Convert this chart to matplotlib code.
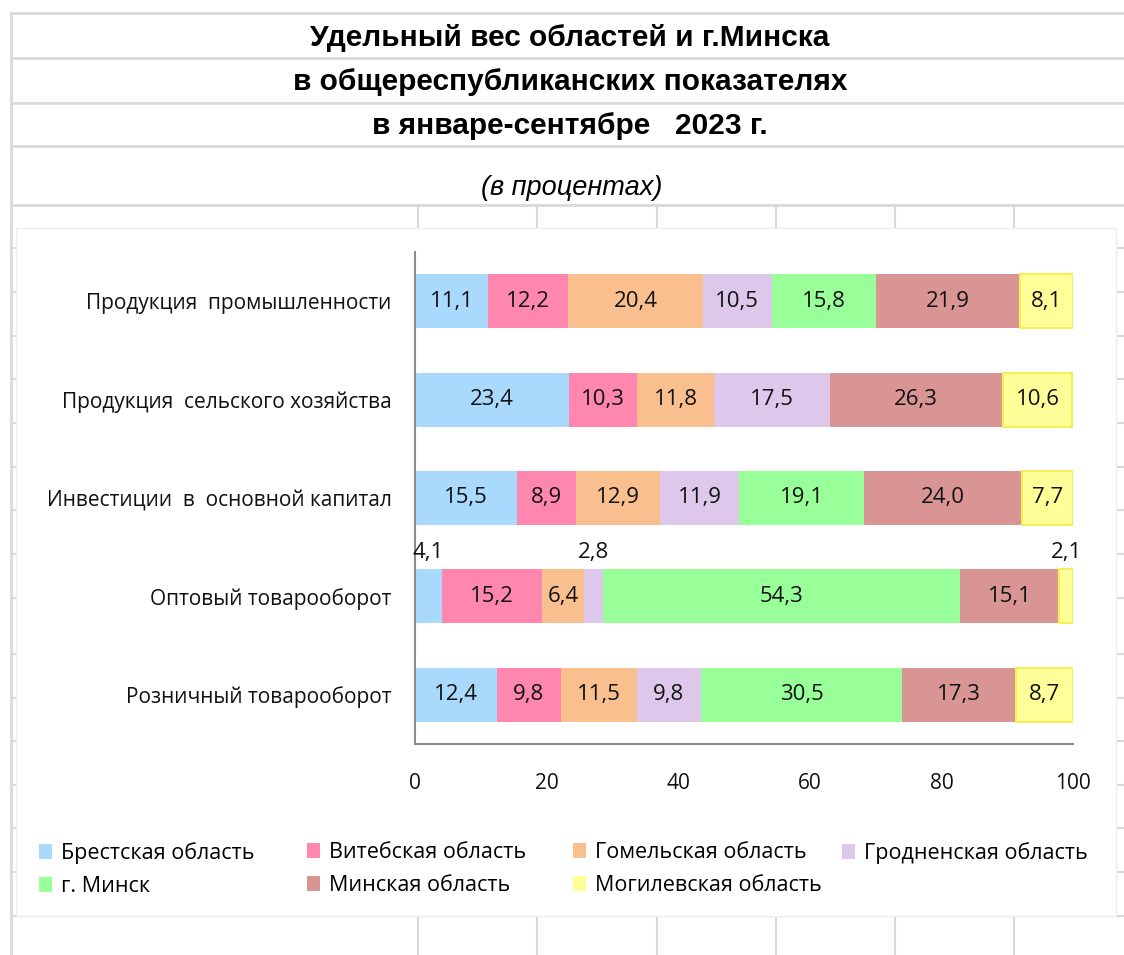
import matplotlib
matplotlib.use("Agg")
import matplotlib.pyplot as plt
from matplotlib.patches import Rectangle, Patch

# categories, top to bottom
categories = ["Продукция  промышленности",
              "Продукция  сельского хозяйства",
              "Инвестиции  в  основной капитал",
              "Оптовый товарооборот",
              "Розничный товарооборот"]

# share of each region, %
brest = [11.1, 23.4, 15.5, 4.1, 12.4]
vitebsk = [12.2, 10.3, 8.9, 15.2, 9.8]
gomel = [20.4, 11.8, 12.9, 6.4, 11.5]
grodno = [10.5, 17.5, 11.9, 2.8, 9.8]
minsk_city = [15.8, 0, 19.1, 54.3, 30.5]
minsk_region = [21.9, 26.3, 24.0, 15.1, 17.3]
mogilev = [8.1, 10.6, 7.7, 2.1, 8.7]

series = [brest, vitebsk, gomel, grodno, minsk_city, minsk_region, mogilev]
names = ["Брестская область", "Витебская область", "Гомельская область",
         "Гродненская область", "г. Минск", "Минская область", "Могилевская область"]
colors = ["#A9D9FD", "#FF86AE", "#F9BF8F", "#DDC8EB", "#99FF99", "#D99594", "#FFFF99"]

W, H = 1124, 955
fig = plt.figure(figsize=(W / 100, H / 100), dpi=100)

# spreadsheet background (cells behind the chart object)
bg = fig.add_axes([0, 0, 1, 1], zorder=0)
bg.set_xlim(0, W)
bg.set_ylim(H, 0)
bg.axis("off")
grid_c = "#D9D9D9"
bg.plot([11, 11], [13, H], color=grid_c, lw=2, zorder=1)
for yy in [13, 58, 103, 146, 205]:
    bg.plot([11, W], [yy, yy], color=grid_c, lw=2, zorder=1)
for yy in [248, 292, 336, 379, 423, 467, 510, 554, 598, 654, 698, 741, 785, 828, 872, 916]:
    bg.plot([11, W], [yy, yy], color=grid_c, lw=1.5, zorder=1)
for xx in [418, 537, 657, 776, 895, 1014]:
    bg.plot([xx, xx], [205, H], color=grid_c, lw=1.5, zorder=1)
bg.add_patch(Rectangle((16, 228), 1100, 688, facecolor="white", edgecolor="#EEEEEE",
                       lw=1, zorder=3))

# titles
title_font = ["Liberation Sans", "DejaVu Sans"]
bg.text(570, 38, "Удельный вес областей и г.Минска", ha="center", va="center",
        fontsize=21.5, fontweight="bold", family=title_font, zorder=4)
bg.text(570, 82, "в общереспубликанских показателях", ha="center", va="center",
        fontsize=21.5, fontweight="bold", family=title_font, zorder=4)
bg.text(570, 126, "в январе-сентябре   2023 г.", ha="center", va="center",
        fontsize=21.5, fontweight="bold", family=title_font, zorder=4)
bg.text(572, 188, "(в процентах)", ha="center", va="center",
        fontsize=19.5, style="italic", family=title_font, zorder=4)

plt.rcParams["font.family"] = ["Open Sans", "DejaVu Sans"]

ax = fig.add_axes([415 / W, 1 - 744 / H, 658 / W, 492 / H], zorder=1)
ax.patch.set_alpha(0)

ypos = list(range(len(categories)))
left = [0] * len(categories)
for vals, name, col in zip(series, names, colors):
    edge = "#F7EE5A" if name == "Могилевская область" else "none"
    ax.barh(ypos, vals, left=left, height=0.55, color=col, edgecolor=edge,
            linewidth=1.5, label=name)
    for i, v in enumerate(vals):
        if v == 0:
            continue
        cx = left[i] + v / 2
        txt = f"{v:.1f}".replace(".", ",")
        if v < 5:
            ax.text(cx, i - 0.45, txt, ha="center", va="center", fontsize=16, color="#111111")
        else:
            ax.text(cx, i, txt, ha="center", va="center", fontsize=16, color="#111111")
    left = [l + v for l, v in zip(left, vals)]

ax.set_xlim(0, 100)
ax.set_ylim(4.5, -0.5)
ax.set_xticks(range(0, 101, 20))
ax.set_yticks(ypos)
ax.set_yticklabels(categories)
ax.tick_params(axis="x", length=0, pad=21, labelsize=15, colors="#111111")
ax.tick_params(axis="y", length=0, pad=17, labelsize=15, colors="#111111")
for s in ["top", "right"]:
    ax.spines[s].set_visible(False)
for s in ["left", "bottom"]:
    ax.spines[s].set_color("#8C8C8C")
    ax.spines[s].set_linewidth(1.5)

# legend: 4 evenly spaced columns, two rows
handles = [Patch(facecolor=c, edgecolor="none") for c in colors]
col_x = [39, 307, 573, 842]
for k, x0 in enumerate(col_x):
    idx = [j for j in (k, k + 4) if j < len(names)]
    fig.legend([handles[j] for j in idx], [names[j] for j in idx],
               loc="upper left", bbox_to_anchor=(x0 / W, 1 - 842 / H),
               frameon=False, fontsize=15.5, handlelength=0.62, handleheight=0.7,
               handletextpad=0.4, labelspacing=0.55, borderpad=0, borderaxespad=0)

fig.savefig("out.png", dpi=100)
